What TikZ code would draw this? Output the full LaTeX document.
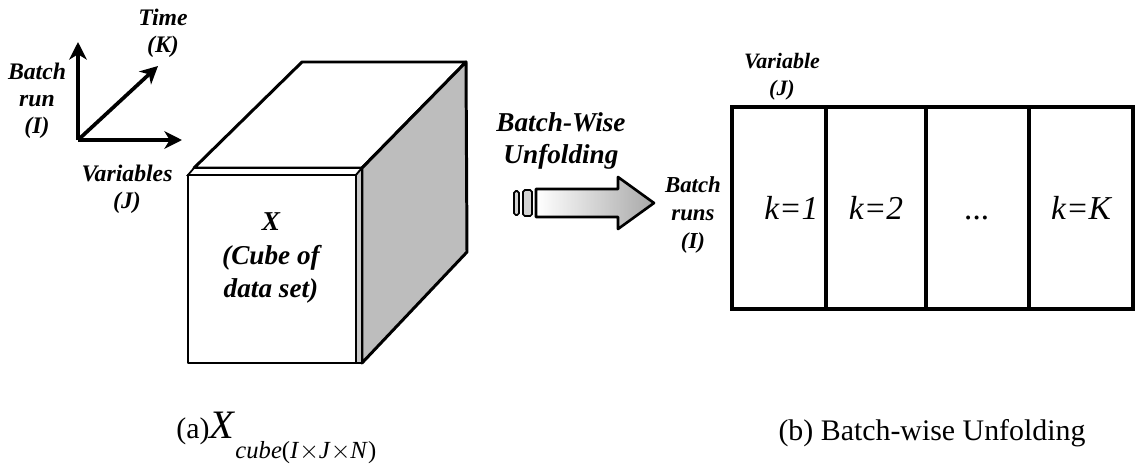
\documentclass[tikz,border=0pt]{standalone}
\usepackage{fontspec}
\setmainfont{Liberation Serif}
\usetikzlibrary{positioning, arrows.meta}
\definecolor{sidegray}{HTML}{BDBDBD}
\definecolor{stripgray}{HTML}{C8C8C8}
\definecolor{arrowgray}{HTML}{A8A8A8}

\tikzset{
  axislbl/.style={font=\fontsize{13.5}{15.5}\selectfont\bfseries\itshape, align=center, inner sep=0pt},
  cubelbl/.style={font=\fontsize{15.5}{19}\selectfont\bfseries\itshape, align=center, inner sep=0pt},
  axisarrow/.style={line width=2.1pt, -{Stealth[length=10pt, width=10pt, inset=3pt]}},
  cubeline/.style={line width=1.7pt, line join=round},
  kcell/.style={draw, line width=1.8pt, minimum height=202*0.02cm, inner sep=0pt,
    text height=13pt, text depth=0pt, font=\fontsize{19}{22}\selectfont\itshape}
}

\begin{document}
\begin{tikzpicture}[x=0.02cm, y=-0.02cm]
    \useasboundingbox (0,0) rectangle (1137,467);

    \coordinate (o) at (78,140);
    \coordinate (iend) at (78,42);
    \coordinate (jend) at (182,140);
    \coordinate (kend) at (158,66);
    \draw[axisarrow] (o) -- (iend);
    \draw[axisarrow] (o) -- (jend);
    \draw[axisarrow] (o) -- (kend);
    \node[axislbl] (timelbl) at (163,33) {Time\\(K)};
    \node[axislbl] (batchlbl) at (37,101) {Batch\\run\\(I)};
    \node[axislbl] (varlbl) at (127,189) {Variables\\(J)};

    \filldraw[cubeline, fill=white] (194,168) -- (302,62) -- (466,62) -- (362,168) -- cycle;
    \filldraw[cubeline, fill=sidegray] (362,168) -- (466,62) -- (467,252) -- (362,363) -- cycle;
    \filldraw[line width=1pt, fill=white] (188,175) -- (194,168) -- (362,168) -- (356,175) -- cycle;
    \filldraw[line width=1pt, fill=stripgray] (356,175) -- (362,168) -- (362,363) -- (356,363) -- cycle;
    \draw[cubeline] (362,168) -- (362,363);
    \filldraw[cubeline, fill=white] (188,175) rectangle (356,363);
    \node[cubelbl] (cubetxt) at (271,258) {X\\(Cube of\\data set)};

    \node[font=\fontsize{15.5}{18}\selectfont\bfseries\itshape, align=center, inner sep=0pt]
      (unfoldlbl) at (561,141) {Batch-Wise\\Unfolding};
    \filldraw[line width=1pt, fill=gray!35, rounded corners=1pt] (514,191) rectangle (519,215);
    \filldraw[line width=1pt, fill=gray!35, rounded corners=1pt] (523,190) rectangle (532,216);
    \shade[draw, line width=1.5pt, line join=round, left color=white, right color=arrowgray]
      (536,189) -- (618,189) -- (618,177) -- (654,203) -- (618,229) -- (618,217) -- (536,217) -- cycle;

    \node[axislbl, font=\fontsize{13}{16}\selectfont\bfseries\itshape] (runslbl) at (693,215) {Batch\\runs\\(I)};
    \node[axislbl, font=\fontsize{12.5}{15.5}\selectfont\bfseries\itshape] (varjlbl) at (782,77) {Variable\\(J)};

    \node[kcell, minimum width=94*0.02cm] (k1) at (779,208) {\hspace{14pt}k=1};
    \node[kcell, minimum width=100*0.02cm] (k2) at (876,208) {k=2};
    \node[kcell, minimum width=103*0.02cm] (k3) at (977.5,208) {...};
    \node[kcell, minimum width=104*0.02cm] (kK) at (1081,208) {k=K};

    \node[anchor=west, inner sep=0pt, font=\fontsize{17}{20}\selectfont] (capa) at (176,438)
      {(a)\fontsize{23}{24}\selectfont\textit{X}\raisebox{-0.5em}{\fontsize{14}{16}\selectfont\textit{cube}(\textit{I}$\times$\textit{J}$\times$\textit{N})}};
    \node[font=\fontsize{17}{20}\selectfont, inner sep=0pt] (capb) at (932,433) {(b) Batch-wise Unfolding};
\end{tikzpicture}
\end{document}
